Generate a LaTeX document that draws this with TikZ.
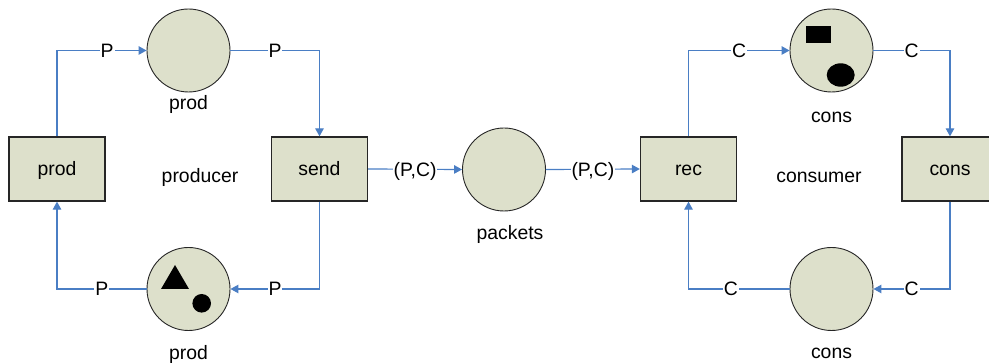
\documentclass[tikz,border=0pt]{standalone}
\usepackage{fontspec}
\setmainfont{Liberation Sans}
\usetikzlibrary{arrows.meta,positioning}
\definecolor{placefill}{HTML}{DDE0CB}
\definecolor{arcblue}{HTML}{4A7EC4}
\tikzset{
  place/.style={circle,draw=black!85,line width=0.9pt,fill=placefill,minimum size=83pt,inner sep=0pt},
  trans/.style={rectangle,draw=black!85,line width=1.3pt,fill=placefill,minimum width=96pt,minimum height=64pt,inner sep=0pt},
  arc/.style={draw=arcblue,line width=1.2pt,-{Triangle[length=8pt,width=8.5pt]}},
  inscr/.style={fill=white,inner sep=1pt,text depth=0pt},
  tag/.style={anchor=base},
}
\begin{document}
\begin{tikzpicture}[x=1pt,y=-1pt,font=\fontsize{19.4pt}{22pt}\selectfont]
\useasboundingbox (0,0) rectangle (989,363);

% producer net
\node[trans] (prodT) at (57,169) {};
\node[tag] at (57,176) {prod};
\node[trans] (send) at (319.5,169) {};
\node[tag] at (319.5,176) {send};
\node[place] (pTop) at (188.5,50.5) {};
\node[place] (pBot) at (188.5,289) {};
\node[tag] (pTopLbl) at (188.5,110) {prod};
\node[tag] (pBotLbl) at (188.5,360) {prod};
\node[tag] (producer) at (200,183) {producer};

% tokens on the lower producer place
\fill[black] (161,289) -- (189,289) -- (175,265) -- cycle;
\fill[black] (201.7,303.3) circle (9.3);

% shared buffer
\node[place] (packets) at (504,169.5) {};
\node[tag] (packetsLbl) at (510,240) {packets};

% consumer net
\node[trans] (rec) at (688.5,169) {};
\node[tag] at (688.5,176) {rec};
\node[trans] (consT) at (950,169) {};
\node[tag] at (950,176) {cons};
\node[place] (cTop) at (831.5,50.5) {};
\node[place] (cBot) at (831.5,289) {};
\node[tag] (cTopLbl) at (831.5,123) {cons};
\node[tag] (cBotLbl) at (831.5,359) {cons};
\node[tag] (consumer) at (819,183) {consumer};

% tokens on the upper consumer place
\fill[black] (805.7,26) rectangle (830.7,43.3);
\fill[black] (840.7,75) ellipse [x radius=14, y radius=11.7];

% arcs
\draw[arc] (prodT.north) |- node[inscr,pos=0.78] {P} (pTop.west);
\draw[arc] (pTop.east) -| node[inscr,pos=0.25] {P} (send.north);
\draw[arc] (send.south) |- node[inscr,pos=0.75] {P} (pBot.east);
\draw[arc] (pBot.west) -| node[inscr,pos=0.25] {P} (prodT.south);
\draw[arc] (send.east) -- node[inscr] {(P,C)} (packets.west);
\draw[arc] (packets.east) -- node[inscr] {(P,C)} (rec.west);
\draw[arc] (rec.north) |- node[inscr,pos=0.75] {C} (cTop.west);
\draw[arc] (cTop.east) -| node[inscr,pos=0.25] {C} (consT.north);
\draw[arc] (consT.south) |- node[inscr,pos=0.75] {C} (cBot.east);
\draw[arc] (cBot.west) -| node[inscr,pos=0.29] {C} (rec.south);
\end{tikzpicture}
\end{document}
